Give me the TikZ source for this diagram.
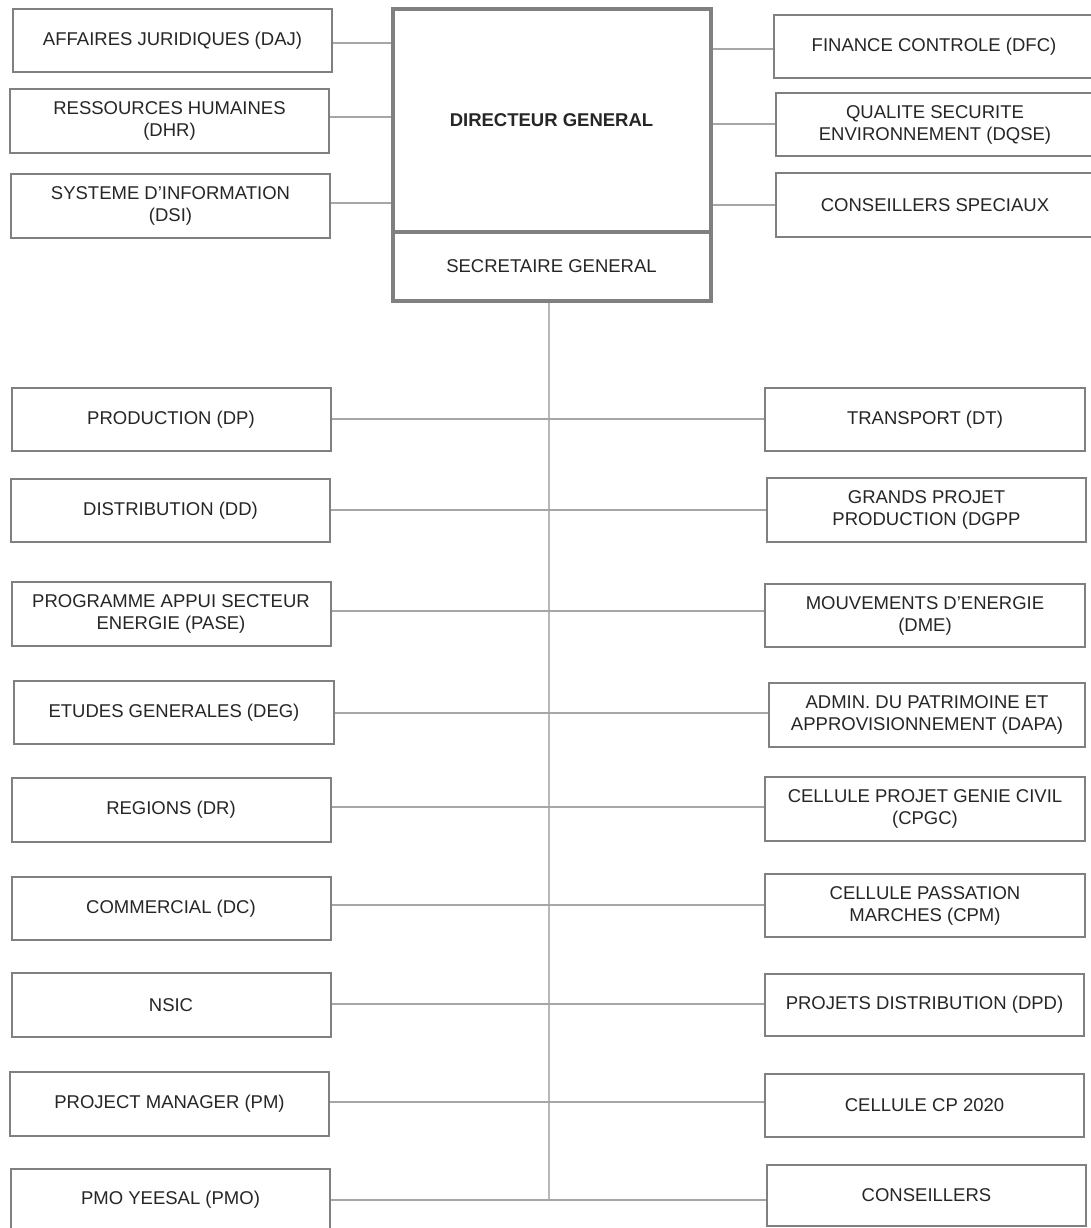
\documentclass[tikz,border=0pt]{standalone}
\usepackage{fontspec}
\setmainfont{Liberation Sans}
\definecolor{boxgray}{HTML}{808080}
\definecolor{linegray}{HTML}{A6A6A6}
\definecolor{txt}{HTML}{262626}
\begin{document}
\begin{tikzpicture}[x=1pt,y=-1pt,
  unit/.style={draw=boxgray, line width=2pt, rectangle, inner sep=0pt, align=center,
    text=txt, font=\fontsize{18.5}{22}\selectfont, minimum width=319pt, minimum height=63pt},
  chief/.style={unit, line width=4pt, minimum width=318pt},
  link/.style={draw=linegray, line width=1.3pt}]
\useasboundingbox (0,0) rectangle (1090,1228);
\fill[white] (0,0) rectangle (1090,1228);
% top
\node[chief, minimum height=223pt] (dg) at (551.5,120.2) {\bfseries DIRECTEUR GENERAL};
\node[chief, minimum height=69pt] (sg) at (551.5,266.2) {SECRETAIRE GENERAL};
\node[unit] (daj) at (172.5,40.5) {AFFAIRES JURIDIQUES (DAJ)};
\node[unit, minimum height=64pt] (dhr) at (169.5,121) {RESSOURCES HUMAINES\\(DHR)};
\node[unit, minimum height=64pt] (dsi) at (170.5,206) {SYSTEME D’INFORMATION\\(DSI)};
\node[unit, minimum width=320pt, minimum height=63.3pt] (dfc) at (934,46.3) {FINANCE CONTROLE (DFC)};
\node[unit, minimum width=318pt] (dqse) at (935,124.5) {QUALITE SECURITE\\ENVIRONNEMENT (DQSE)};
\node[unit, minimum width=318pt, minimum height=64pt] (cs) at (935,205) {CONSEILLERS SPECIAUX};
\draw[link] (daj.east |- 0,43) -- (dg.west |- 0,43);
\draw[link] (dhr.east |- 0,117) -- (dg.west |- 0,117);
\draw[link] (dsi.east |- 0,203) -- (dg.west |- 0,203);
\draw[link] (dg.east |- 0,49) -- (dfc.west |- 0,49);
\draw[link] (dg.east |- 0,124) -- (dqse.west |- 0,124);
\draw[link] (dg.east |- 0,205) -- (cs.west |- 0,205);
% left column
\node[unit] (dp) at (171,419.5) {PRODUCTION (DP)};
\node[unit] (dd) at (170.5,510.5) {DISTRIBUTION (DD)};
\node[unit, minimum height=64pt] (pase) at (171,614) {PROGRAMME APPUI SECTEUR\\ENERGIE (PASE)};
\node[unit, minimum width=320pt] (deg) at (174,712.5) {ETUDES GENERALES (DEG)};
\node[unit, minimum height=64pt] (dr) at (171,810) {REGIONS (DR)};
\node[unit] (dc) at (171,908.5) {COMMERCIAL (DC)};
\node[unit, minimum height=64pt] (nsic) at (171,1005) {NSIC};
\node[unit, minimum height=64pt] (pm) at (169.5,1104) {PROJECT MANAGER (PM)};
\node[unit, minimum height=62pt] (pmo) at (170.5,1200) {PMO YEESAL (PMO)};
% right column
\node[unit, minimum width=320pt] (dt) at (925,419.5) {TRANSPORT (DT)};
\node[unit, minimum height=64pt] (dgpp) at (926.5,510) {GRANDS PROJET\\PRODUCTION (DGPP};
\node[unit, minimum width=320pt] (dme) at (925,615.5) {MOUVEMENTS D’ENERGIE\\(DME)};
\node[unit, minimum width=316pt, minimum height=64pt] (dapa) at (927,715) {ADMIN. DU PATRIMOINE ET\\APPROVISIONNEMENT (DAPA)};
\node[unit, minimum width=320pt, minimum height=64pt] (cpgc) at (925,809) {CELLULE PROJET GENIE CIVIL\\(CPGC)};
\node[unit, minimum width=320pt] (cpm) at (925,905.5) {CELLULE PASSATION\\MARCHES (CPM)};
\node[unit, minimum height=62pt] (dpd) at (924.5,1005) {PROJETS DISTRIBUTION (DPD)};
\node[unit] (cp) at (924.5,1105.5) {CELLULE CP 2020};
\node[unit, minimum height=61pt] (cons) at (926.5,1195.5) {CONSEILLERS};
% spine
\coordinate (vbot) at (549,1200);
\draw[link, draw=linegray!80] (sg.south -| vbot) -- (vbot);
\draw[link] (dp.east |- 0,419) -- (dt.west |- 0,419);
\draw[link] (dd.east |- 0,510) -- (dgpp.west |- 0,510);
\draw[link] (pase.east |- 0,611) -- (dme.west |- 0,611);
\draw[link] (deg.east |- 0,713) -- (dapa.west |- 0,713);
\draw[link] (dr.east |- 0,807) -- (cpgc.west |- 0,807);
\draw[link] (dc.east |- 0,905) -- (cpm.west |- 0,905);
\draw[link] (nsic.east |- 0,1004) -- (dpd.west |- 0,1004);
\draw[link] (pm.east |- 0,1102) -- (cp.west |- 0,1102);
\draw[link] (pmo.east |- 0,1200) -- (cons.west |- 0,1200);
\end{tikzpicture}
\end{document}
